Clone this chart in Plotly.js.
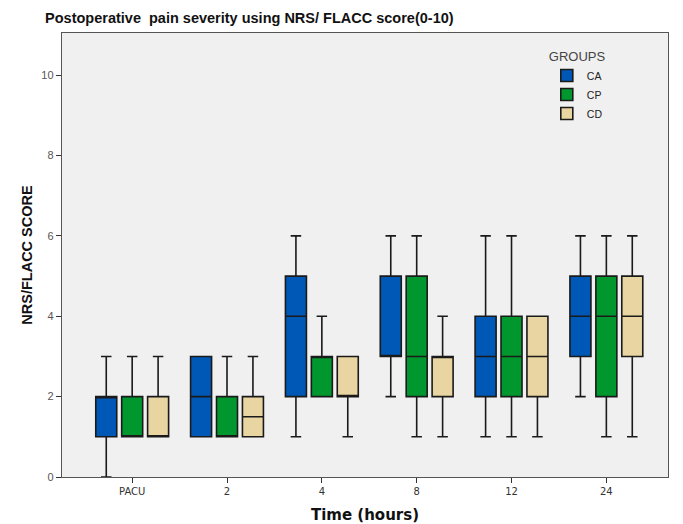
<!DOCTYPE html>
<html>
<head>
<meta charset="utf-8">
<script src="https://cdn.plot.ly/plotly-3.0.1.min.js"></script>
<style>html,body{margin:0;padding:0;background:#fff;}#chart{width:683px;height:524px;}</style>
</head>
<body>
<div id="chart"></div>
<script>
const categories = ['PACU', '2', '4', '8', '12', '24'];
const groupNames = ['CA', 'CP', 'CD'];

const CA_min = [0, 1, 1, 2, 1, 2];
const CA_q1  = [1, 1, 2, 3, 2, 3];
const CA_med = [2, 2, 4, 3, 3, 4];
const CA_q3  = [2, 3, 5, 5, 4, 5];
const CA_max = [3, 3, 6, 6, 6, 6];

const CP_min = [1, 1, 2, 1, 1, 1];
const CP_q1  = [1, 1, 2, 2, 2, 2];
const CP_med = [1, 1, 3, 3, 3, 4];
const CP_q3  = [2, 2, 3, 5, 4, 5];
const CP_max = [3, 3, 4, 6, 6, 6];

const CD_min = [1, 1, 1, 1, 1, 1];
const CD_q1  = [1, 1, 2, 2, 2, 3];
const CD_med = [1, 1.5, 2, 3, 3, 4];
const CD_q3  = [2, 2, 3, 3, 4, 5];
const CD_max = [3, 3, 3, 4, 4, 6];

const colors = ['#0058b6', '#00982e', '#e8d5a2'];

const stats = [
  [CA_min, CA_q1, CA_med, CA_q3, CA_max],
  [CP_min, CP_q1, CP_med, CP_q3, CP_max],
  [CD_min, CD_q1, CD_med, CD_q3, CD_max]
];

const traces = stats.map((s, i) => ({
  type: 'box',
  name: groupNames[i],
  x: categories,
  lowerfence: s[0],
  q1: s[1],
  median: s[2],
  q3: s[3],
  upperfence: s[4],
  fillcolor: colors[i],
  line: {color: '#1a1a1a', width: 1.6},
  whiskerwidth: 0.5,
  boxpoints: false,
  hoverinfo: 'skip'
}));

const layout = {
  width: 683,
  height: 524,
  margin: {l: 62, r: 15, t: 33, b: 47},
  paper_bgcolor: '#ffffff',
  plot_bgcolor: '#f0f0f0',
  boxmode: 'group',
  boxgap: 0.18,
  boxgroupgap: 0.19,
  title: {
    text: '<b>Postoperative  pain severity using NRS/ FLACC score(0-10)</b>',
    font: {family: 'Liberation Sans, Arial, sans-serif', size: 14.5, color: '#111'},
    x: 0.066, xanchor: 'left', y: 0.966, yanchor: 'middle'
  },
  xaxis: {
    type: 'category',
    range: [-0.74, 5.65],
    showgrid: false,
    zeroline: false,
    showline: true,
    linecolor: '#555',
    linewidth: 1.2,
    mirror: true,
    ticks: 'outside',
    ticklen: 5,
    tickcolor: '#333',
    tickfont: {family: 'DejaVu Sans, sans-serif', size: 10, color: '#333'},
    title: {text: 'Time (hours)', font: {family: 'DejaVu Sans, sans-serif', size: 15, color: '#111', weight: 'bold'}, standoff: 13}
  },
  yaxis: {
    range: [0, 11.05],
    tickvals: [0, 2, 4, 6, 8, 10],
    showgrid: false,
    zeroline: false,
    showline: true,
    linecolor: '#555',
    linewidth: 1.2,
    mirror: true,
    ticks: 'outside',
    ticklen: 5,
    tickcolor: '#333',
    tickfont: {family: 'Liberation Sans, Arial, sans-serif', size: 11, color: '#555'},
    title: {text: 'NRS/FLACC SCORE', font: {family: 'Liberation Sans, Arial, sans-serif', size: 14.5, color: '#111', weight: 'bold'}, standoff: 5}
  },
  showlegend: true,
  legend: {
    x: 0.8, y: 0.975, xanchor: 'left', yanchor: 'top',
    bgcolor: 'rgba(0,0,0,0)',
    title: {text: 'GROUPS', font: {family: 'Liberation Sans, Arial, sans-serif', size: 13, color: '#444'}},
    font: {family: 'Liberation Sans, Arial, sans-serif', size: 10.5, color: '#222'},
    tracegroupgap: 0,
    itemwidth: 30
  }
};

Plotly.newPlot('chart', traces, layout, {displayModeBar: false, staticPlot: true});
</script>
</body>
</html>
